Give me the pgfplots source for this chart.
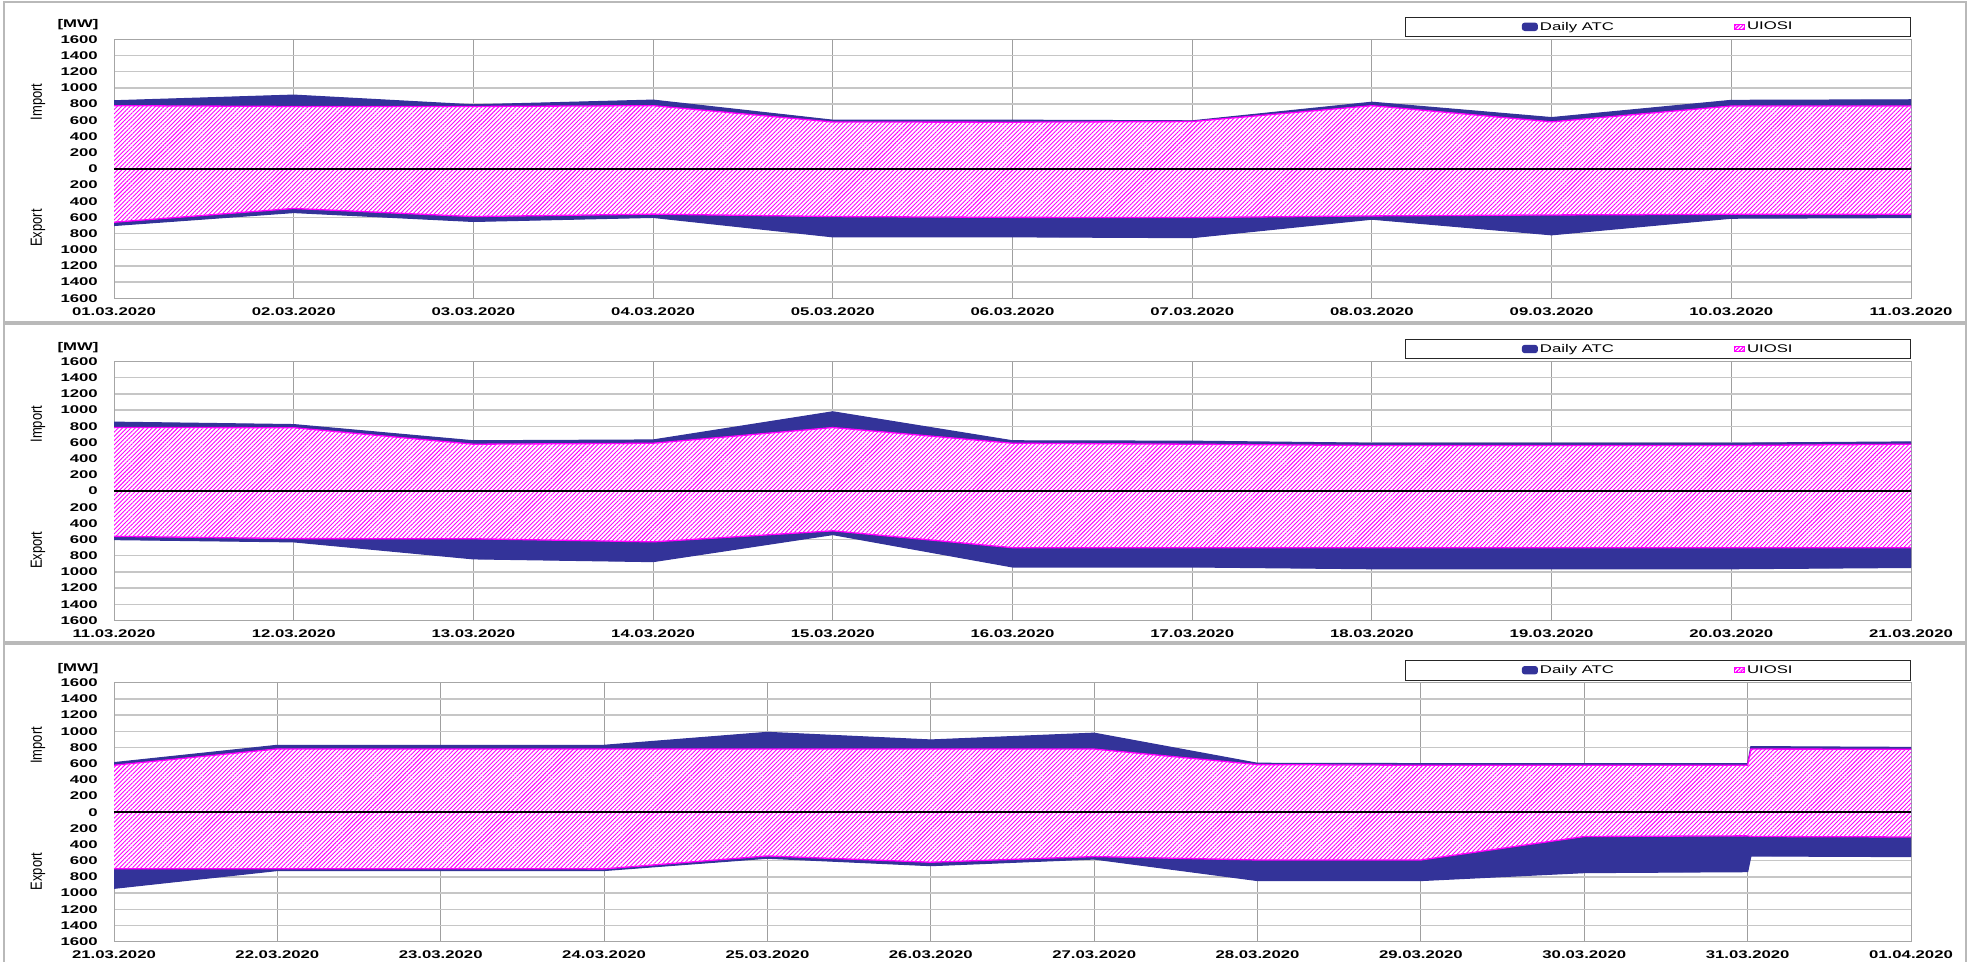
\documentclass[border=0pt]{standalone}
\usepackage{fontspec}
\setmainfont{Liberation Sans}[FakeStretch=1.5]
\newfontfamily\rotfont{Liberation Sans}
\usepackage{pgfplots}
\pgfplotsset{compat=1.18}
\usetikzlibrary{patterns.meta}
\definecolor{atc}{RGB}{51,51,153}
\definecolor{uio}{RGB}{255,0,255}

% one table per panel: day, ATC import, UIOSI import, ATC export, UIOSI export
\pgfplotstableread{
x    ai   ui   ae    ue
0    840  780  -700  -660
1    910  770  -540  -490
2    790  770  -650  -590
3    848  780  -600  -560
4    600  578  -840  -590
5    600  576  -840  -600
6    592  584  -850  -602
7    822  780  -622  -582
8    632  580  -815  -570
9    845  776  -610  -562
10   852  776  -602  -562
}\tabA
\pgfplotstableread{
x    ai   ui   ae    ue
0    850  785  -600  -560
1    820  782  -628  -588
2    620  578  -838  -590
3    630  590  -872  -628
4    978  784  -538  -492
5    620  590  -938  -700
6    615  578  -938  -700
7    590  562  -960  -700
8    590  562  -960  -700
9    590  562  -960  -700
10   606  578  -944  -700
}\tabB
\pgfplotstableread{
x     ai   ui   ae    ue
0     612  580  -940  -698
1     826  782  -720  -698
2     826  780  -720  -698
3     826  780  -720  -700
4     986  780  -568  -540
5     892  780  -660  -618
6     976  780  -578  -548
7     604  588  -844  -590
8     600  580  -844  -590
9     600  580  -746  -300
10    600  580  -734  -292
10.02 810  780  -540  -300
11    800  778  -548  -306
}\tabC

\pgfplotsset{
  panel/.style={
    scale only axis, width=1797bp, height=259bp,
    xmin=0, ymin=-1600, ymax=1600,
    ytick={-1600,-1400,...,1600},
    yticklabels={1600,1400,1200,1000,800,600,400,200,0,200,400,600,800,1000,1200,1400,1600},
    major tick length=0pt,
    axis line style={draw=gray!70, line width=1bp},
    xmajorgrids, ymajorgrids,
    x grid style={gray!75, line width=1bp},
    y grid style={gray!45, line width=1.4bp},
    tick label style={font=\bfseries\fontsize{11.2}{12}\selectfont, inner sep=0pt},
    yticklabel style={anchor=east, xshift=-16bp},
    xticklabel style={anchor=north, yshift=-9bp},
    legend style={at={(1,1)}, anchor=south east, yshift=2.3bp,
      draw=black!85, line width=0.8bp, legend columns=2,
      font=\fontsize{11.2}{12}\selectfont, inner xsep=116bp, inner ysep=3bp,
      /tikz/every even column/.append style={column sep=118bp}},
  },
  atc area/.style={draw=atc, line width=1.2bp, fill=atc,
    legend image code/.code={\fill[atc, rounded corners=2.5bp] (0bp,-3.6bp) rectangle (15bp,3.6bp);}},
  uio area/.style={draw=none, fill=white,
    postaction={pattern={Lines[angle=45,distance=3bp,line width=0.9bp]}, pattern color=uio},
    legend image code/.code={\draw[draw=uio, line width=1bp, fill=white,
      postaction={pattern={Lines[angle=45,distance=2.5bp,line width=0.8bp]}, pattern color=uio}]
      (0bp,-2.7bp) rectangle (10bp,2.7bp);}},
  uio edge/.style={uio, line width=1.3bp, forget plot},
}

\newcommand{\panel}[4]{%
  \begin{axis}[panel, at={(114bp,-#4bp)}, anchor=north west,
      xmax=#2, xtick={0,...,#2}, xticklabels={#3}]
    \addplot[atc area] table[x=x, y=ai] {#1} \closedcycle;
    \addplot[atc area, forget plot] table[x=x, y=ae] {#1} \closedcycle;
    \addplot[uio area] table[x=x, y=ui] {#1} \closedcycle;
    \addplot[uio area, forget plot] table[x=x, y=ue] {#1} \closedcycle;
    \addplot[uio edge] table[x=x, y=ui] {#1};
    \addplot[uio edge] table[x=x, y=ue] {#1};
    \draw[black, line width=1.6bp] (rel axis cs:0,0.5) -- (rel axis cs:1,0.5);
    \legend{Daily ATC, UIOSI}
  \end{axis}
  \node[font=\bfseries\fontsize{11.2}{12}\selectfont] at (78bp,{-#4bp+14.3bp}) {[MW]};
  \node[rotate=90] at (38bp,{-#4bp-62.7bp}) {\scalebox{1}[1.25]{\rotfont\fontsize{13}{14}\selectfont Import}};
  \node[rotate=90] at (38bp,{-#4bp-188.7bp}) {\scalebox{1}[1.25]{\rotfont\fontsize{13}{14}\selectfont Export}};
}

\begin{document}
\begin{tikzpicture}
  \useasboundingbox (0bp,0bp) rectangle (1970bp,-962bp);
  \draw[gray!55, line width=1.5bp] (4bp,-2bp) rectangle (1966bp,-322bp);
  \draw[gray!55, line width=1.5bp] (4bp,-324bp) rectangle (1966bp,-642bp);
  \draw[gray!55, line width=1.5bp] (4bp,-644bp) rectangle (1966bp,-975bp);
  \panel{\tabA}{10}{01.03.2020,02.03.2020,03.03.2020,04.03.2020,05.03.2020,06.03.2020,07.03.2020,08.03.2020,09.03.2020,10.03.2020,11.03.2020}{39.3}
  \panel{\tabB}{10}{11.03.2020,12.03.2020,13.03.2020,14.03.2020,15.03.2020,16.03.2020,17.03.2020,18.03.2020,19.03.2020,20.03.2020,21.03.2020}{361.5}
  \panel{\tabC}{11}{21.03.2020,22.03.2020,23.03.2020,24.03.2020,25.03.2020,26.03.2020,27.03.2020,28.03.2020,29.03.2020,30.03.2020,31.03.2020,01.04.2020}{682.7}
\end{tikzpicture}
\end{document}
